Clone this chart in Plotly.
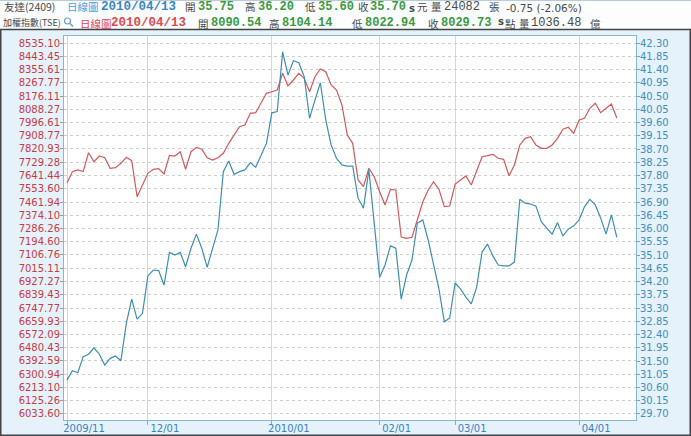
import plotly.graph_objects as go

# ---------------- data ----------------
nov_days = [10, 11, 12, 13, 16, 17, 18, 19, 20, 23, 24, 25, 26, 27, 30]
dec_days = [1, 2, 3, 4, 7, 8, 9, 10, 11, 14, 15, 16, 17, 18, 21, 22, 23, 24, 25, 28, 29, 30, 31]
jan_days = [4, 5, 6, 7, 8, 11, 12, 13, 14, 15, 18, 19, 20, 21, 22, 25, 26, 27, 28, 29]
feb_days = [1, 2, 3, 4, 5, 6, 8, 9, 10, 22, 23, 24, 25, 26]
mar_days = [1, 2, 3, 4, 5, 8, 9, 10, 11, 12, 15, 16, 17, 18, 19, 22, 23, 24, 25, 26, 29, 30, 31]
apr_days = [1, 2, 6, 7, 8, 9, 12, 13]

dates = ([f"2009/11/{d:02d}" for d in nov_days] + [f"2009/12/{d:02d}" for d in dec_days]
         + [f"2010/01/{d:02d}" for d in jan_days] + [f"2010/02/{d:02d}" for d in feb_days]
         + [f"2010/03/{d:02d}" for d in mar_days] + [f"2010/04/{d:02d}" for d in apr_days])

# 加權指數 (TSE) close, left axis
taiex = [7593.2, 7667.3, 7678.8, 7668.7, 7795.4, 7734.8, 7773.2, 7761.7, 7690.3, 7694.3,
         7724.0, 7764.4, 7741.5, 7498.8, 7577.7, 7656.5, 7683.5, 7687.6, 7651.8, 7777.9,
         7773.2, 7802.2, 7683.5, 7802.2, 7831.8, 7818.4, 7761.7, 7746.2, 7761.7, 7791.4,
         7858.8, 7914.8, 7970.7, 7982.2, 8061.1, 8065.1, 8128.5, 8195.9, 8206.7, 8218.2,
         8330.8, 8245.2, 8285.6, 8330.8, 8297.1, 8206.7, 8307.9, 8359.8, 8341.6, 8251.9,
         8218.2, 8117.1, 7914.8, 7858.8, 7611.4, 7566.2, 7690.3, 7633.6, 7532.5, 7442.8,
         7548.7, 7543.9, 7227.0, 7218.3, 7225.0, 7348.4, 7463.0, 7543.9, 7599.9, 7548.7,
         7431.3, 7436.1, 7584.4, 7611.4, 7638.3, 7577.7, 7678.8, 7768.5, 7775.2, 7784.6,
         7757.7, 7750.9, 7640.4, 7712.5, 7847.4, 7892.5, 7903.3, 7847.4, 7825.1, 7825.1,
         7847.4, 7892.5, 7953.2, 7966.7, 7926.2, 8015.9, 8027.4, 8094.8, 8128.5, 8065.1,
         8094.8, 8123.8, 8029.73]

# 友達 (2409) close, right axis
auo = [30.86, 31.17, 31.10, 31.65, 31.73, 31.95, 31.73, 31.36, 31.59, 31.67,
       31.51, 32.78, 33.60, 32.92, 33.12, 34.39, 34.59, 34.57, 34.08, 35.19,
       35.10, 35.19, 34.70, 35.33, 35.81, 35.33, 34.68, 35.33, 35.95, 37.93,
       38.29, 37.84, 37.93, 37.99, 38.24, 38.08, 38.50, 38.89, 39.93, 39.97,
       42.00, 41.21, 41.70, 41.63, 41.16, 39.74, 40.36, 40.95, 39.69, 38.84,
       38.38, 38.16, 38.12, 38.12, 37.03, 36.69, 37.99, 36.12, 34.34, 34.76,
       35.41, 35.33, 33.60, 34.42, 34.93, 36.18, 36.29, 35.61, 34.83, 33.95,
       32.83, 32.96, 34.15, 33.95, 33.67, 33.44, 34.01, 35.20, 35.47, 35.07,
       34.76, 34.73, 34.73, 34.86, 36.99, 36.86, 36.83, 36.76, 36.22, 36.02,
       35.81, 36.20, 35.75, 35.98, 36.09, 36.29, 36.74, 36.99, 36.80, 36.36,
       35.81, 36.46, 35.70]

left_tick_labels = ["8535.10", "8443.45", "8355.61", "8267.77", "8176.11", "8088.27", "7996.61",
                    "7908.77", "7820.93", "7729.28", "7641.44", "7553.60", "7461.94", "7374.10",
                    "7286.26", "7194.60", "7106.76", "7015.11", "6927.27", "6839.43", "6747.77",
                    "6659.93", "6572.09", "6480.43", "6392.59", "6300.94", "6213.10", "6125.26",
                    "6033.60"]
right_tick_labels = ["42.30", "41.85", "41.40", "40.95", "40.50", "40.05", "39.60", "39.15",
                     "38.70", "38.25", "37.80", "37.35", "36.90", "36.45", "36.00", "35.55",
                     "35.10", "34.65", "34.20", "33.75", "33.30", "32.85", "32.40", "31.95",
                     "31.50", "31.05", "30.60", "30.15", "29.70"]
x_tick_dates = ["2009/11/10", "2009/12/01", "2010/01/04", "2010/02/01", "2010/03/01", "2010/04/01"]
x_tick_labels = ["2009/11", "12/01", "2010/01", "02/01", "03/01", "04/01"]

# ---------------- layout helpers ----------------
W, H = 691, 436
L, R, T, B = 64, 55, 36, 16
PW, PH = W - L - R, H - T - B


def px(xp):
    return (xp - L) / PW


def py(yp):
    return (H - B - yp) / PH


fig = go.Figure()
fig.add_trace(go.Scatter(x=dates, y=taiex, mode="lines", yaxis="y",
                         line=dict(color="#d25a5c", width=1.2), name="加權指數"))
fig.add_trace(go.Scatter(x=dates, y=auo, mode="lines", yaxis="y2",
                         line=dict(color="#3f8fb2", width=1.2), name="友達"))

axis_line = "#86b8d6"
fig.update_layout(
    template="none",
    width=W, height=H,
    margin=dict(l=L, r=R, t=T, b=B, pad=0, autoexpand=False),
    paper_bgcolor="#e5f2fb",
    plot_bgcolor="#ffffff",
    showlegend=False,
    font=dict(family="DejaVu Sans", size=10),
    xaxis=dict(type="category", range=[-0.56, 105.56], automargin=False,
               tickmode="array", tickvals=x_tick_dates, ticktext=x_tick_labels,
               showgrid=True, gridcolor="#d6d6d6", gridwidth=1,
               ticks="outside", ticklen=4, tickcolor="#8aa9bf", tickwidth=1,
               showline=True, linecolor=axis_line, linewidth=1, mirror=True,
               tickfont=dict(family="DejaVu Sans", size=10, color="#3b7fc2"),
               ticklabelshift=17, ticklabelstandoff=-5, zeroline=False),
    yaxis=dict(range=[5993.1, 8582.3], tickmode="array", automargin=False,
               tickvals=[float(t) for t in left_tick_labels], ticktext=left_tick_labels,
               showgrid=True, gridcolor="#cfcfcf", griddash="dot", gridwidth=1,
               ticks="outside", ticklen=3, tickcolor="#9a9a9a", tickwidth=1,
               ticklabelstandoff=-2,
               showline=True, linecolor=axis_line, linewidth=1, mirror=True, zeroline=False,
               tickfont=dict(family="DejaVu Sans", size=10, color="#c93a44")),
    yaxis2=dict(range=[29.496, 42.538], overlaying="y", side="right", tickmode="array",
                automargin=False,
                tickvals=[float(t) for t in right_tick_labels], ticktext=right_tick_labels,
                showgrid=False, ticks="outside", ticklen=3, tickcolor="#9a9a9a", tickwidth=1,
                ticklabelstandoff=-2,
                showline=False, zeroline=False,
                tickfont=dict(family="DejaVu Sans", size=10, color="#3f8fc0")),
)

# ---------------- header text ----------------
CJK = "Noto Sans CJK TC"
MONO = "Liberation Mono"
dark = "#4a4a4a"
green = "#3c9a3c"
row1 = [("友達(2409)", 3, CJK, 10.5, dark, False),
        ("日線圖", 66, CJK, 10.5, "#4aa3dc", False),
        ("2010/04/13", 100, MONO, 12.5, "#3b86c6", True),
        ("開", 184, CJK, 10.5, dark, False),
        ("35.75", 197, MONO, 12, green, True),
        ("高", 244, CJK, 10.5, dark, False),
        ("36.20", 257, MONO, 12, green, True),
        ("低", 304, CJK, 10.5, dark, False),
        ("35.60", 317, MONO, 12, green, True),
        ("收", 357, CJK, 10.5, dark, False),
        ("35.70", 369, MONO, 12, green, True),
        ("s", 408, "DejaVu Sans", 10, dark, True),
        ("元", 416, CJK, 10.5, dark, False),
        ("量", 430, CJK, 10.5, dark, False),
        ("24082", 443, MONO, 12, dark, False),
        ("張", 488, CJK, 10.5, dark, False),
        ("-0.75 (-2.06%)", 505, "DejaVu Sans", 10.5, dark, False)]
row2 = [("加權指數(TSE)", 2, CJK, 9, dark, False),
        ("日線圖", 79, CJK, 10.5, "#e04a4a", False),
        ("2010/04/13", 110, MONO, 12.5, "#e04a4a", True),
        ("開", 197, CJK, 10.5, dark, False),
        ("8090.54", 210, MONO, 12, green, True),
        ("高", 268, CJK, 10.5, dark, False),
        ("8104.14", 281, MONO, 12, green, True),
        ("低", 351, CJK, 10.5, dark, False),
        ("8022.94", 364, MONO, 12, green, True),
        ("收", 427, CJK, 10.5, dark, False),
        ("8029.73", 440, MONO, 12, green, True),
        ("s", 497, "DejaVu Sans", 10, dark, True),
        ("點", 504, CJK, 10.5, dark, False),
        ("量", 518, CJK, 10.5, dark, False),
        ("1036.48", 530, MONO, 12, dark, False),
        ("億", 589, CJK, 10.5, dark, False)]

# header band (white) and chart frame
fig.add_shape(type="rect", xref="paper", yref="paper", layer="below",
              x0=px(0), x1=px(W), y0=py(30), y1=py(0),
              fillcolor="#fbfdff", line=dict(width=0))
fig.add_shape(type="line", xref="paper", yref="paper",
              x0=px(0), x1=px(W), y0=py(0.5), y1=py(0.5),
              line=dict(color="#b9cbd8", width=1))

for row, yanchor in ((row1, "bottom"), (row2, "top")):
    for text, xp, fam, size, color, bold in row:
        fig.add_annotation(text=f"<b>{text}</b>" if bold else text,
                           x=px(xp), y=py(15.5), xref="paper", yref="paper",
                           xanchor="left", yanchor=yanchor, showarrow=False,
                           borderpad=0, font=dict(family=fam, size=size, color=color))

# magnifier icon after 加權指數(TSE)
fig.add_shape(type="circle", xref="paper", yref="paper",
              x0=px(64.5), x1=px(70.5), y0=py(24), y1=py(18),
              line=dict(color="#6f9fc6", width=1.2))
fig.add_shape(type="line", xref="paper", yref="paper",
              x0=px(69.5), x1=px(73), y0=py(23), y1=py(26.5),
              line=dict(color="#6f9fc6", width=1.5))

# dark frame around the chart part
fig.add_shape(type="rect", xref="paper", yref="paper", layer="above",
              x0=px(0.75), x1=px(W - 0.75), y0=py(H - 0.75), y1=py(29.5),
              line=dict(color="#444444", width=1.5))

fig.write_html("out.html", config={"displayModeBar": False},
               post_script="document.body.style.margin='0';document.body.style.padding='0';")
